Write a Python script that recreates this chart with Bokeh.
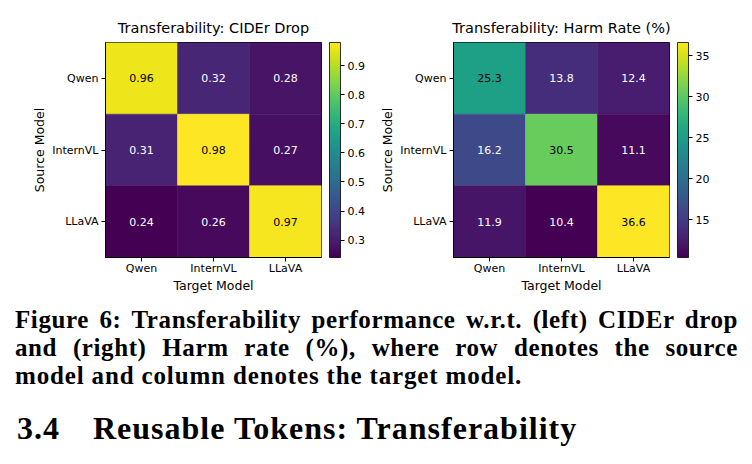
from bokeh.plotting import figure
from bokeh.models import (ColumnDataSource, LinearColorMapper, ColorBar, FixedTicker,
                          PrintfTickFormatter, FactorRange, Div)
from bokeh.layouts import column, row
from bokeh.palettes import Viridis256
from bokeh.embed import file_html
from bokeh.resources import INLINE
from bokeh.core.properties import value

# ---------------- data ----------------
models = ["Qwen", "InternVL", "LLaVA"]
cider_drop = [
    [0.96, 0.32, 0.28],
    [0.31, 0.98, 0.27],
    [0.24, 0.26, 0.97],
]
harm_rate = [
    [25.3, 13.8, 12.4],
    [16.2, 30.5, 11.1],
    [11.9, 10.4, 36.6],
]
cider_ticks = [0.3, 0.4, 0.5, 0.6, 0.7, 0.8, 0.9]
harm_ticks = [15, 20, 25, 30, 35]

FONT = "DejaVu Sans"
FRAME_W, FRAME_H = 216, 215


def heatmap(matrix, title, ticks, fmt, label_fmt, left_border, right_border):
    flat = [v for r in matrix for v in r]
    lo, hi = min(flat), max(flat)
    mid = (lo + hi) / 2
    xs, ys, vals, labels, tcols = [], [], [], [], []
    for i, src in enumerate(models):
        for j, tgt in enumerate(models):
            v = matrix[i][j]
            xs.append(tgt)
            ys.append(src)
            vals.append(v)
            labels.append(label_fmt % v)
            tcols.append("black" if v > mid else "white")
    source = ColumnDataSource(dict(x=xs, y=ys, v=vals, label=labels, tc=tcols))
    mapper = LinearColorMapper(palette=Viridis256, low=lo, high=hi)

    p = figure(x_range=FactorRange(*models), y_range=FactorRange(*models[::-1]),
               width=376, height=295,
               min_border_left=left_border, min_border_right=right_border,
               min_border_top=42, min_border_bottom=38,
               output_backend="svg", toolbar_location=None, title=title)
    p.rect(x="x", y="y", width=1, height=1, source=source,
           fill_color={"field": "v", "transform": mapper},
           line_color={"field": "v", "transform": mapper}, line_width=0.5)
    p.text(x="x", y="y", text="label", source=source, text_color="tc",
           text_align="center", text_baseline="middle",
           text_font=value(FONT), text_font_size="11px")

    p.title.align = "center"
    p.title.text_font = FONT
    p.title.text_font_size = "14.5px"
    p.title.text_font_style = "normal"
    p.title.text_color = "black"
    p.title.standoff = 13

    p.xgrid.visible = False
    p.ygrid.visible = False
    p.outline_line_color = "black"
    p.outline_line_width = 1
    p.outline_line_alpha = 1
    for ax in (p.xaxis[0], p.yaxis[0]):
        ax.axis_line_color = "black"
        ax.major_tick_line_color = "black"
        ax.major_tick_out = 4
        ax.major_tick_in = 0
        ax.minor_tick_line_color = None
        ax.major_label_text_font = FONT
        ax.major_label_text_font_size = "11px"
        ax.major_label_text_color = "black"
        ax.axis_label_text_font = FONT
        ax.axis_label_text_font_size = "12.5px"
        ax.axis_label_text_font_style = "normal"
        ax.axis_label_text_color = "black"
        ax.axis_label_standoff = 0
    p.xaxis.major_label_standoff = 0
    p.yaxis.major_label_standoff = 3
    p.yaxis.axis_label_standoff = 2
    p.xaxis.axis_label = "Target Model"
    p.yaxis.axis_label = "Source Model"
    p.yaxis.major_label_orientation = "horizontal"

    cb = ColorBar(color_mapper=mapper, ticker=FixedTicker(ticks=ticks),
                  formatter=PrintfTickFormatter(format=fmt),
                  orientation="vertical",
                  width=11, height=FRAME_H, padding=0, margin=0,
                  location=(FRAME_W + 8, 0),
                  bar_line_color="black", bar_line_width=0.8,
                  major_tick_line_color="black", major_tick_out=4, major_tick_in=0,
                  minor_tick_line_color=None, label_standoff=3,
                  major_label_text_font=FONT, major_label_text_font_size="11px",
                  major_label_text_color="black",
                  background_fill_alpha=0, border_line_color=None)
    p.add_layout(cb)
    p.background_fill_color = "white"
    p.border_fill_color = "white"
    return p


p1 = heatmap(cider_drop, "Transferability: CIDEr Drop", cider_ticks, "%.1f", "%.2f", 105, 55)
p2 = heatmap(harm_rate, "Transferability: Harm Rate (%)", harm_ticks, "%d", "%.1f", 77, 83)

caption_lines = [
    "Figure 6: Transferability performance w.r.t. (left) CIDEr drop",
    "and (right) Harm rate (%), where row denotes the source",
    "model and column denotes the target model.",
]
section_no = "3.4"
section_title = "Reusable Tokens: Transferability"

just = "text-align:justify;text-align-last:justify;white-space:nowrap;"
html = (
    "<div style=\"font-family:'Liberation Serif',serif;font-weight:bold;color:black;"
    "font-size:25px;line-height:28px;letter-spacing:0.6px;width:723px;box-sizing:content-box;"
    "padding:11px 0 0 15px;\">"
    f"<div style='{just}'>{caption_lines[0]}</div>"
    f"<div style='{just}'>{caption_lines[1]}</div>"
    f"<div style='white-space:nowrap;letter-spacing:0.85px;'>{caption_lines[2]}</div>"
    "<div style='font-size:32px;line-height:40px;margin-top:18px;letter-spacing:1px;"
    "white-space:nowrap;padding-left:2px;'>"
    f"{section_no}<span style='display:inline-block;width:33px'></span>{section_title}</div>"
    "</div>"
)
div = Div(text=html, width=752, height=169, margin=(0, 0, 0, 0))

layout = column(row(p1, p2, spacing=0), div, spacing=0)
open("out.html", "w").write(file_html(layout, INLINE))
